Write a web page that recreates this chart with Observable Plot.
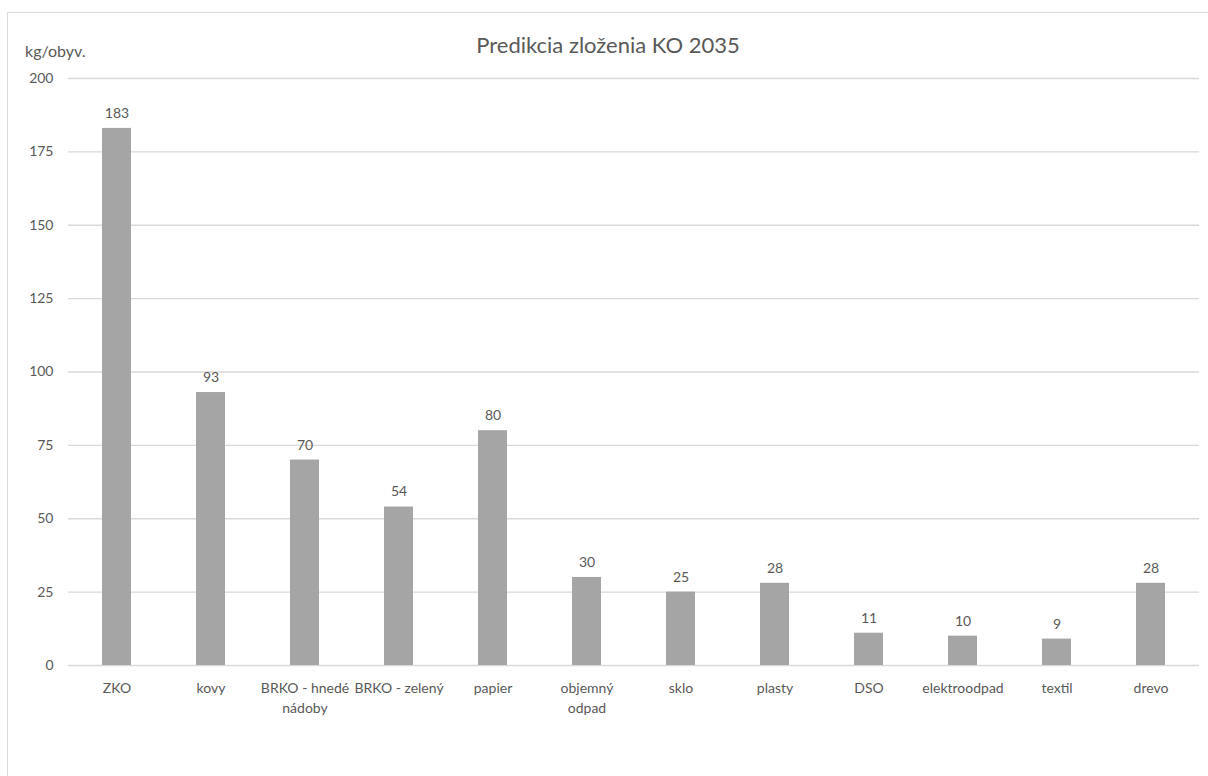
<!DOCTYPE html>
<html>
<head>
<meta charset="utf-8">
<script src="https://cdn.jsdelivr.net/npm/d3@7"></script>
<script src="https://cdn.jsdelivr.net/npm/@observablehq/plot@0.6"></script>
<style>
  html, body { margin: 0; padding: 0; background: #fff; }
  #wrap { position: relative; width: 1208px; height: 776px; overflow: hidden; font-family: Lato, "Open Sans", sans-serif; color: #595959; }
  #frame { position: absolute; left: 7px; top: 12px; width: 1240px; height: 820px; border: 1.5px solid #d9d9d9; box-sizing: border-box; }
  #title { position: absolute; top: 31px; left: 0; width: 1216px; text-align: center; font-size: 22px; color: #595959; }
  #ylabel { position: absolute; top: 41px; left: 25px; font-size: 16px; color: #595959; }
  #chart { position: absolute; left: 0; top: 60px; }
</style>
</head>
<body>
<div id="wrap">
  <div id="frame"></div>
  <div id="title">Predikcia zloženia KO 2035</div>
  <div id="ylabel">kg/obyv.</div>
  <div id="chart"></div>
</div>
<script>
const categories = ["ZKO", "kovy", "BRKO - hnedé nádoby", "BRKO - zelený", "papier", "objemný odpad", "sklo", "plasty", "DSO", "elektroodpad", "textil", "drevo"];
const tickLabels = ["ZKO", "kovy", "BRKO - hnedé\nnádoby", "BRKO - zelený", "papier", "objemný\nodpad", "sklo", "plasty", "DSO", "elektroodpad", "textil", "drevo"];
const values = [183, 93, 70, 54, 80, 30, 25, 28, 11, 10, 9, 28];
const yTicks = [0, 25, 50, 75, 100, 125, 150, 175, 200];

const data = categories.map((c, i) => ({category: c, value: values[i]}));
const labelOf = new Map(categories.map((c, i) => [c, tickLabels[i]]));
const font = "Lato, 'Open Sans', sans-serif";

const chart = Plot.plot({
  width: 1208,
  height: 680,
  marginLeft: 68,
  marginRight: 9,
  marginTop: 18,
  marginBottom: 75,
  style: {fontFamily: font, fontSize: "14px", color: "#595959", background: "transparent"},
  x: {domain: categories, paddingInner: 0.69, paddingOuter: 0.345, label: null},
  y: {domain: [0, 200], label: null},
  marks: [
    Plot.gridY(yTicks, {stroke: "#d9d9d9", strokeOpacity: 1, strokeWidth: 1.3}),
    Plot.barY(data, {x: "category", y: "value", fill: "#a5a5a5"}),
    Plot.text(data, {x: "category", y: "value", text: d => String(d.value), dy: -15, fill: "#595959", fontSize: 14}),
    Plot.axisY({ticks: yTicks, tickSize: 0, tickPadding: 15, label: null, fill: "#595959", fontSize: 14}),
    Plot.axisX({tickSize: 0, tickPadding: 13, label: null, tickFormat: c => labelOf.get(c), lineHeight: 1.43, fill: "#595959", fontSize: 14})
  ]
});
document.getElementById("chart").appendChild(chart);
</script>
</body>
</html>
